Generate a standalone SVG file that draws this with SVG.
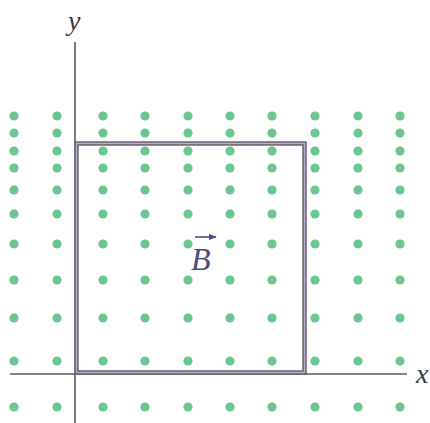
<svg xmlns="http://www.w3.org/2000/svg" width="430" height="423" viewBox="0 0 430 423">
<defs>
<style>
.dot{fill:#6cc690;}
.axis{stroke:#5e5a60;stroke-width:1.6;fill:none;}
.lbl{font-family:"Liberation Serif",serif;font-style:italic;fill:#3a3a3a;}
.blbl{font-family:"Liberation Serif",serif;font-style:italic;fill:#4a4a80;}
</style>
<marker id="arr" viewBox="0 0 10 10" refX="9" refY="5" markerWidth="5" markerHeight="5" orient="auto"><path d="M0,1 L10,5 L0,9 z" fill="#4a4a90"/></marker>
<circle id="d" r="4.6" class="dot"/>
</defs>
<rect width="430" height="423" fill="#ffffff"/>
<g id="field">
<g id="r1" transform="translate(0,116)"><use href="#d" x="14"/><use href="#d" x="57"/><use href="#d" x="103"/><use href="#d" x="145"/><use href="#d" x="188"/><use href="#d" x="230"/><use href="#d" x="272"/><use href="#d" x="315"/><use href="#d" x="358"/><use href="#d" x="400"/></g>
<g id="r2" transform="translate(0,133)"><use href="#d" x="14"/><use href="#d" x="57"/><use href="#d" x="103"/><use href="#d" x="145"/><use href="#d" x="188"/><use href="#d" x="230"/><use href="#d" x="272"/><use href="#d" x="315"/><use href="#d" x="358"/><use href="#d" x="400"/></g>
<g id="r3" transform="translate(0,151)"><use href="#d" x="14"/><use href="#d" x="57"/><use href="#d" x="103"/><use href="#d" x="145"/><use href="#d" x="188"/><use href="#d" x="230"/><use href="#d" x="272"/><use href="#d" x="315"/><use href="#d" x="358"/><use href="#d" x="400"/></g>
<g id="r4" transform="translate(0,168)"><use href="#d" x="14"/><use href="#d" x="57"/><use href="#d" x="103"/><use href="#d" x="145"/><use href="#d" x="188"/><use href="#d" x="230"/><use href="#d" x="272"/><use href="#d" x="315"/><use href="#d" x="358"/><use href="#d" x="400"/></g>
<g id="r5" transform="translate(0,190)"><use href="#d" x="14"/><use href="#d" x="57"/><use href="#d" x="103"/><use href="#d" x="145"/><use href="#d" x="188"/><use href="#d" x="230"/><use href="#d" x="272"/><use href="#d" x="315"/><use href="#d" x="358"/><use href="#d" x="400"/></g>
<g id="r6" transform="translate(0,214)"><use href="#d" x="14"/><use href="#d" x="57"/><use href="#d" x="103"/><use href="#d" x="145"/><use href="#d" x="188"/><use href="#d" x="230"/><use href="#d" x="272"/><use href="#d" x="315"/><use href="#d" x="358"/><use href="#d" x="400"/></g>
<g id="r7" transform="translate(0,244)"><use href="#d" x="14"/><use href="#d" x="57"/><use href="#d" x="103"/><use href="#d" x="145"/><use href="#d" x="188"/><use href="#d" x="230"/><use href="#d" x="272"/><use href="#d" x="315"/><use href="#d" x="358"/><use href="#d" x="400"/></g>
<g id="r8" transform="translate(0,280)"><use href="#d" x="14"/><use href="#d" x="57"/><use href="#d" x="103"/><use href="#d" x="145"/><use href="#d" x="188"/><use href="#d" x="230"/><use href="#d" x="272"/><use href="#d" x="315"/><use href="#d" x="358"/><use href="#d" x="400"/></g>
<g id="r9" transform="translate(0,318)"><use href="#d" x="14"/><use href="#d" x="57"/><use href="#d" x="103"/><use href="#d" x="145"/><use href="#d" x="188"/><use href="#d" x="230"/><use href="#d" x="272"/><use href="#d" x="315"/><use href="#d" x="358"/><use href="#d" x="400"/></g>
<g id="r10" transform="translate(0,361)"><use href="#d" x="14"/><use href="#d" x="57"/><use href="#d" x="103"/><use href="#d" x="145"/><use href="#d" x="188"/><use href="#d" x="230"/><use href="#d" x="272"/><use href="#d" x="315"/><use href="#d" x="358"/><use href="#d" x="400"/></g>
<g id="r11" transform="translate(0,407)"><use href="#d" x="14"/><use href="#d" x="57"/><use href="#d" x="103"/><use href="#d" x="145"/><use href="#d" x="188"/><use href="#d" x="230"/><use href="#d" x="272"/><use href="#d" x="315"/><use href="#d" x="358"/><use href="#d" x="400"/></g>
</g>
<g id="axes">
<line class="axis" x1="75" y1="42" x2="75" y2="423"/>
<line class="axis" x1="10" y1="374" x2="407" y2="374"/>
</g>
<g id="loop">
<rect x="76.5" y="143.5" width="228" height="229" fill="none" stroke="#6e6678" stroke-width="4.5"/>
<rect x="76.5" y="143.5" width="228" height="229" fill="none" stroke="#b8b0c8" stroke-width="1.3"/>
</g>
<g id="labels">
<text class="lbl" x="68" y="30" font-size="28">y</text>
<text class="lbl" x="416" y="383" font-size="28">x</text>
<line x1="195" y1="237" x2="216" y2="237" stroke="#4a4a90" stroke-width="1.6" marker-end="url(#arr)"/>
<text class="blbl" x="191" y="270" font-size="32">B</text>
</g>
</svg>
